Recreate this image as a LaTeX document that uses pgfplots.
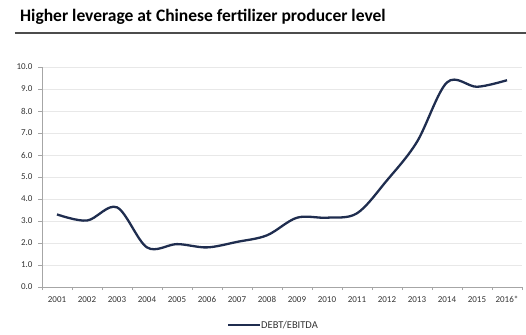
\documentclass[border=0pt]{standalone}
\usepackage{pgfplots}
\pgfplotsset{compat=1.18}
\usepackage{fontspec}
\setmainfont{Carlito}
\definecolor{navy}{HTML}{1F2D4F}
\begin{document}
\begin{tikzpicture}[x=1pt,y=1pt]
\path[use as bounding box] (-42,-47) rectangle (484,287);
\begin{axis}[
  at={(0,0)}, anchor=south west,
  scale only axis, width=480pt, height=220pt,
  xmin=2000.5, xmax=2016.5, ymin=0, ymax=10,
  axis x line*=bottom, axis y line*=left,
  axis line style={gray!70, line width=0.8pt},
  xtick={2001,...,2016},
  xticklabels={2001,2002,2003,2004,2005,2006,2007,2008,2009,2010,2011,2012,2013,2014,2015,2016*},
  major x tick style={draw=none},
  minor xtick={2000.5,2001.5,...,2016.5},
  minor x tick style={gray!70},
  tick align=outside,
  minor tick length=3pt, major tick length=4pt,
  ytick={0,1,...,10},
  y tick label style={/pgf/number format/fixed, /pgf/number format/fixed zerofill, /pgf/number format/precision=1, xshift=-2pt},
  y tick style={gray!70},
  ymajorgrids, grid style={gray!18, line width=0.8pt},
  /pgf/number format/assume math mode=true,
  tick label style={font=\fontsize{9}{10}\selectfont, text=black!80},
  x tick label style={yshift=-2pt},
  clip=false,
]
\addplot[navy, line width=2.3pt, smooth, tension=0.55] coordinates {
(2001,3.3) (2002,3.02) (2003,3.62) (2004,1.8) (2005,1.95) (2006,1.8)
(2007,2.05) (2008,2.35) (2009,3.15) (2010,3.15) (2011,3.35) (2012,4.85)
(2013,6.6) (2014,9.3) (2015,9.1) (2016,9.4)};
\end{axis}
\node[anchor=base west, inner sep=0pt, font=\fontsize{17.5}{19}\selectfont\bfseries] at (-22,265) {Higher leverage at Chinese fertilizer producer level};
\draw[gray!60!black, line width=1.2pt] (-27,254) -- (484,254);
\draw[navy, line width=2.3pt] (186,-38) -- (218,-38);
\node[anchor=west, inner sep=1pt, font=\fontsize{10.5}{12}\selectfont, text=black!80] at (218,-38) {DEBT/EBITDA};
\end{tikzpicture}
\end{document}
